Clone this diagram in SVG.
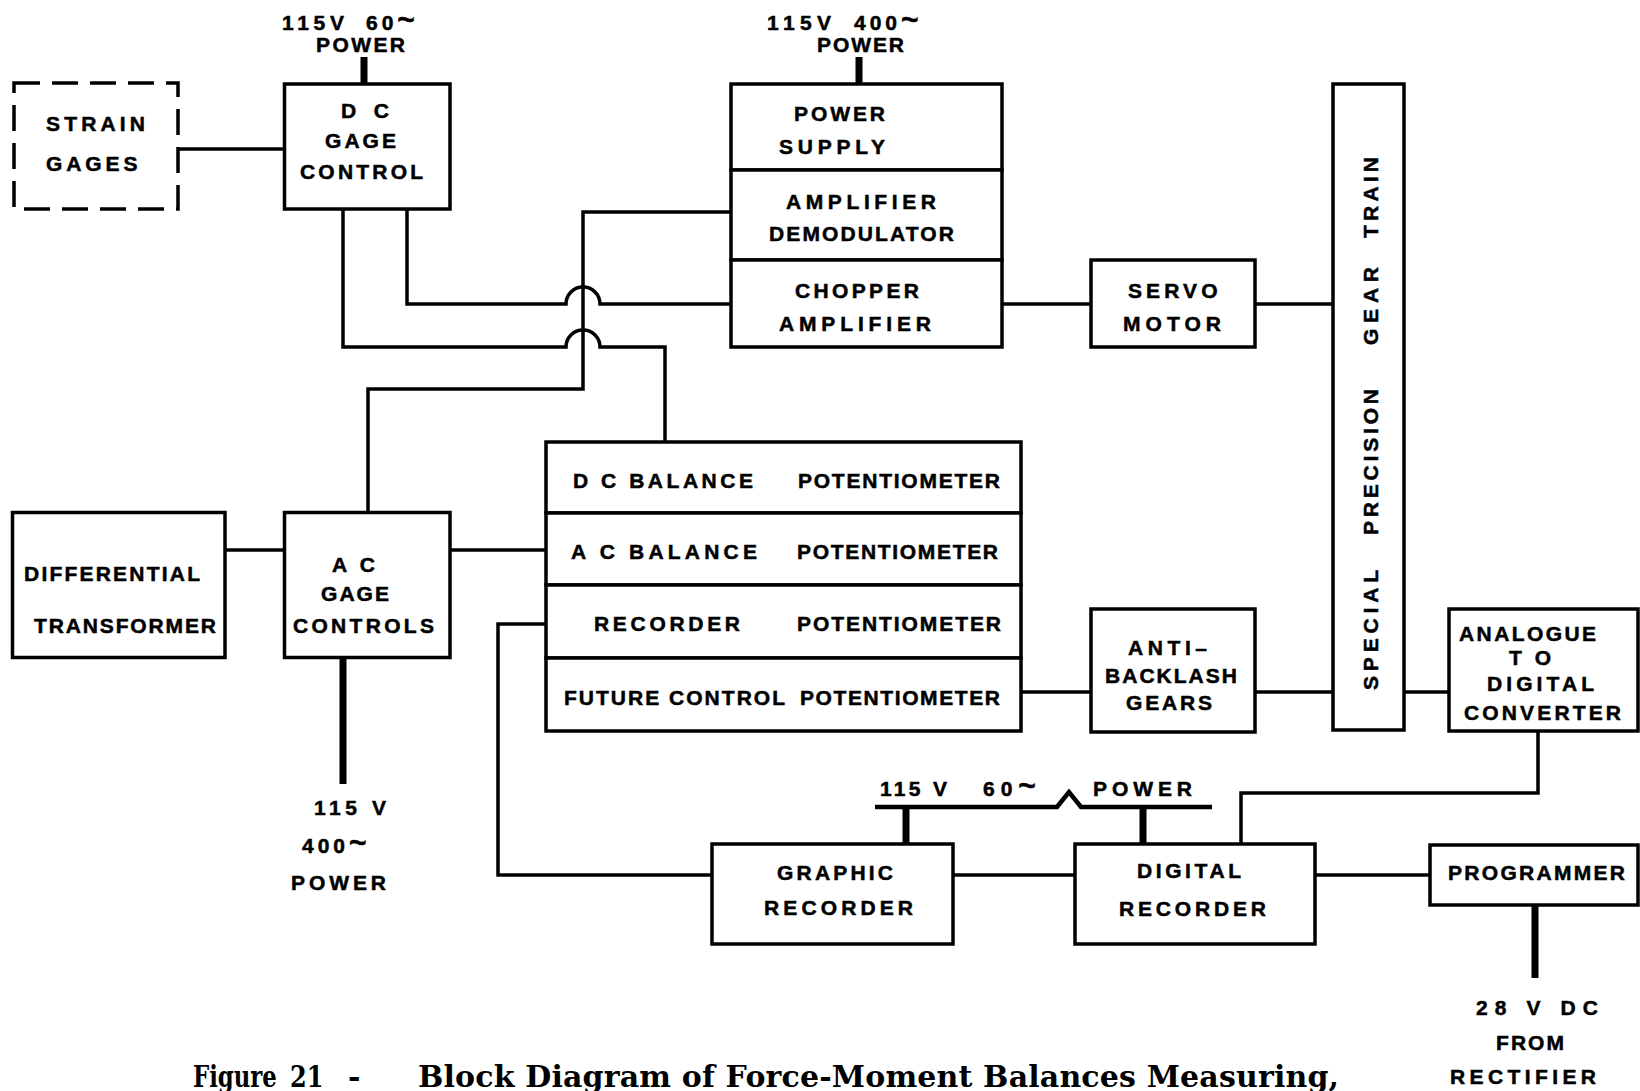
<svg xmlns="http://www.w3.org/2000/svg" width="1640" height="1091" viewBox="0 0 1640 1091">
<style>
.box{fill:#fff;stroke:#000;stroke-width:3.5}
.dash{fill:#fff;stroke:#000;stroke-width:3.5;stroke-dasharray:26 12}
.ln{fill:none;stroke:#000;stroke-width:3.5;stroke-linejoin:miter}
.thick{fill:none;stroke:#000;stroke-width:7}
.bus{fill:none;stroke:#000;stroke-width:4.5;stroke-linejoin:miter}
.t{font-family:"Liberation Sans",Arial,sans-serif;font-weight:700;font-size:21px;fill:#000;stroke:#000;stroke-width:0.5}
.tl{font-size:30px;font-weight:700}
.cap{font-family:"DejaVu Serif","Liberation Serif",serif;font-weight:700;font-size:30px;fill:#000}
</style>
<rect width="1640" height="1091" fill="#fff"/>

<g id="connectors">
<path class="ln" d="M178 149 H284.5"/>
<path class="thick" d="M364 57 V84"/>
<path class="thick" d="M859 57 V84"/>
<path class="ln" d="M343 209 V347 H566 A17 17 0 0 1 600 347 H665 V442"/>
<path class="ln" d="M407 209 V304 H566 A17 17 0 0 1 600 304 H731"/>
<path class="ln" d="M368 512.5 V389 H583 V212 H731"/>
<path class="ln" d="M225 550 H284.5"/>
<path class="ln" d="M450 550 H546"/>
<path class="thick" d="M343 657 V784"/>
<path class="ln" d="M546 624 H498 V875 H712"/>
<path class="ln" d="M953 875 H1075"/>
<path class="bus" d="M875 807 H1057 L1069 792 L1081 807 H1212"/>
<path class="thick" d="M906 807 V844"/>
<path class="thick" d="M1143 807 V844"/>
<path class="ln" d="M1002 304 H1091"/>
<path class="ln" d="M1255 304 H1333"/>
<path class="ln" d="M1021 692 H1091"/>
<path class="ln" d="M1255 692 H1333"/>
<path class="ln" d="M1404 692 H1449"/>
<path class="ln" d="M1538 731 V793 H1241 V844"/>
<path class="ln" d="M1315 875 H1430"/>
<path class="thick" d="M1535 905 V978"/>
</g>

<g id="strain-gages">
<rect class="dash" x="14" y="83" width="164" height="126"/>
<text class="t" x="46" y="130.5" textLength="99" lengthAdjust="spacing">STRAIN</text>
<text class="t" x="46" y="170.5" textLength="91.5" lengthAdjust="spacing">GAGES</text>
</g>

<g id="dc-gage-control">
<rect class="box" x="284.5" y="84" width="165.5" height="125"/>
<text class="t" x="341" y="117.5" textLength="48" lengthAdjust="spacing">D C</text>
<text class="t" x="325" y="147.5" textLength="71" lengthAdjust="spacing">GAGE</text>
<text class="t" x="300" y="178.5" textLength="123" lengthAdjust="spacing">CONTROL</text>
</g>

<g id="power-label-dc">
<text class="t" y="29.5"><tspan x="282" textLength="62" lengthAdjust="spacing">115V</tspan><tspan x="366" letter-spacing="4">60</tspan><tspan class="tl">~</tspan></text>
<text class="t" x="316" y="51.5" textLength="89" lengthAdjust="spacing">POWER</text>
</g>

<g id="power-label-amp">
<text class="t" y="29.5"><tspan x="767" textLength="64" lengthAdjust="spacing">115V</tspan><tspan x="854" letter-spacing="4">400</tspan><tspan class="tl">~</tspan></text>
<text class="t" x="817" y="51.5" textLength="87" lengthAdjust="spacing">POWER</text>
</g>

<g id="power-supply">
<rect class="box" x="731" y="84" width="271" height="86"/>
<text class="t" x="794" y="120.5" textLength="91" lengthAdjust="spacing">POWER</text>
<text class="t" x="779" y="153.5" textLength="106" lengthAdjust="spacing">SUPPLY</text>
</g>

<g id="amplifier-demodulator">
<rect class="box" x="731" y="170" width="271" height="90"/>
<text class="t" x="786" y="208.5" textLength="150" lengthAdjust="spacing">AMPLIFIER</text>
<text class="t" x="769" y="240.5" textLength="185" lengthAdjust="spacing">DEMODULATOR</text>
</g>

<g id="chopper-amplifier">
<rect class="box" x="731" y="260" width="271" height="87"/>
<text class="t" x="795" y="297.5" textLength="124" lengthAdjust="spacing">CHOPPER</text>
<text class="t" x="779" y="330.5" textLength="152" lengthAdjust="spacing">AMPLIFIER</text>
</g>

<g id="servo-motor">
<rect class="box" x="1091" y="260" width="164" height="87"/>
<text class="t" x="1128" y="297.5" textLength="89.5" lengthAdjust="spacing">SERVO</text>
<text class="t" x="1123" y="330.5" textLength="98" lengthAdjust="spacing">MOTOR</text>
</g>

<g id="special-precision-gear-train">
<rect class="box" x="1333" y="84" width="71" height="646"/>
<text class="t" transform="translate(1378,690) rotate(-90)"><tspan x="0" textLength="120" lengthAdjust="spacing">SPECIAL</tspan><tspan x="155" textLength="146" lengthAdjust="spacing">PRECISION</tspan><tspan x="345" textLength="78" lengthAdjust="spacing">GEAR</tspan><tspan x="452" textLength="81" lengthAdjust="spacing">TRAIN</tspan></text>
</g>

<g id="differential-transformer">
<rect class="box" x="12.5" y="512.5" width="212.5" height="145"/>
<text class="t" x="24" y="580.5" textLength="176" lengthAdjust="spacing">DIFFERENTIAL</text>
<text class="t" x="34" y="633" textLength="182" lengthAdjust="spacing">TRANSFORMER</text>
</g>

<g id="ac-gage-controls">
<rect class="box" x="284.5" y="512.5" width="165.5" height="145"/>
<text class="t" x="332" y="571.5" textLength="43" lengthAdjust="spacing">A C</text>
<text class="t" x="321" y="600.5" textLength="68" lengthAdjust="spacing">GAGE</text>
<text class="t" x="293" y="632.5" textLength="141" lengthAdjust="spacing">CONTROLS</text>
</g>

<g id="ac-power-label">
<text class="t" x="314" y="814.5" textLength="72" lengthAdjust="spacing">115 V</text>
<text class="t" y="852.5"><tspan x="302" letter-spacing="4">400</tspan><tspan class="tl">~</tspan></text>
<text class="t" x="291" y="889.5" textLength="95" lengthAdjust="spacing">POWER</text>
</g>

<g id="dc-balance-potentiometer">
<rect class="box" x="546" y="442" width="475" height="71"/>
<text class="t" y="487.5"><tspan x="573" textLength="180" lengthAdjust="spacing">D C BALANCE</tspan><tspan x="798" textLength="202" lengthAdjust="spacing">POTENTIOMETER</tspan></text>
</g>

<g id="ac-balance-potentiometer">
<rect class="box" x="546" y="513" width="475" height="72"/>
<text class="t" y="559"><tspan x="571" textLength="186" lengthAdjust="spacing">A C BALANCE</tspan><tspan x="797" textLength="201" lengthAdjust="spacing">POTENTIOMETER</tspan></text>
</g>

<g id="recorder-potentiometer">
<rect class="box" x="546" y="585" width="475" height="73"/>
<text class="t" y="630.5"><tspan x="594" textLength="146" lengthAdjust="spacing">RECORDER</tspan><tspan x="797" textLength="204" lengthAdjust="spacing">POTENTIOMETER</tspan></text>
</g>

<g id="future-control-potentiometer">
<rect class="box" x="546" y="658" width="475" height="73"/>
<text class="t" y="704.5"><tspan x="564" textLength="221" lengthAdjust="spacing">FUTURE CONTROL</tspan><tspan x="800" textLength="200" lengthAdjust="spacing">POTENTIOMETER</tspan></text>
</g>

<g id="anti-backlash-gears">
<rect class="box" x="1091" y="609" width="164" height="123"/>
<text class="t" x="1128" y="654.5" textLength="79" lengthAdjust="spacing">ANTI–</text>
<text class="t" x="1105" y="682.5" textLength="132" lengthAdjust="spacing">BACKLASH</text>
<text class="t" x="1126" y="709.5" textLength="86" lengthAdjust="spacing">GEARS</text>
</g>

<g id="analogue-to-digital-converter">
<rect class="box" x="1449" y="609" width="189" height="122"/>
<text class="t" x="1459" y="640.5" textLength="137" lengthAdjust="spacing">ANALOGUE</text>
<text class="t" x="1509" y="664.5" textLength="42" lengthAdjust="spacing">TO</text>
<text class="t" x="1487" y="690.5" textLength="107" lengthAdjust="spacing">DIGITAL</text>
<text class="t" x="1464" y="719.5" textLength="157" lengthAdjust="spacing">CONVERTER</text>
</g>

<g id="bus-power-label">
<text class="t" y="795.5"><tspan x="880" textLength="67" lengthAdjust="spacing">115 V</tspan><tspan x="983" letter-spacing="6">60</tspan><tspan class="tl">~</tspan><tspan x="1093" textLength="99" lengthAdjust="spacing">POWER</tspan></text>
</g>

<g id="graphic-recorder">
<rect class="box" x="712" y="844" width="241" height="100"/>
<text class="t" x="777" y="879.5" textLength="116" lengthAdjust="spacing">GRAPHIC</text>
<text class="t" x="764" y="914.5" textLength="149" lengthAdjust="spacing">RECORDER</text>
</g>

<g id="digital-recorder">
<rect class="box" x="1075" y="844" width="240" height="100"/>
<text class="t" x="1137" y="877.5" textLength="104" lengthAdjust="spacing">DIGITAL</text>
<text class="t" x="1119" y="915.5" textLength="147" lengthAdjust="spacing">RECORDER</text>
</g>

<g id="programmer">
<rect class="box" x="1430" y="845" width="208" height="60"/>
<text class="t" x="1448" y="879.5" textLength="177" lengthAdjust="spacing">PROGRAMMER</text>
</g>

<g id="rectifier-label">
<text class="t" x="1476" y="1014.5" textLength="122" lengthAdjust="spacing">28 V DC</text>
<text class="t" x="1496" y="1049.5" textLength="68" lengthAdjust="spacing">FROM</text>
<text class="t" x="1450" y="1084" textLength="146" lengthAdjust="spacing">RECTIFIER</text>
</g>

<g id="caption">
<text class="cap" transform="translate(193,1087) scale(0.76,1)">Figure</text>
<text class="cap" transform="translate(290,1087) scale(0.8,1)">21</text>
<text class="cap" y="1087"><tspan x="348">-</tspan><tspan x="418" textLength="921" lengthAdjust="spacing">Block Diagram of Force-Moment Balances Measuring,</tspan></text>
</g>
</svg>
